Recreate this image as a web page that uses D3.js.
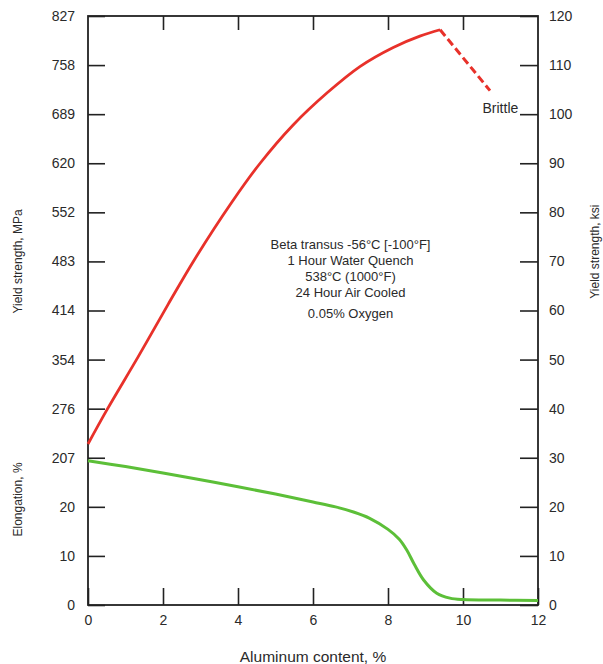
<!DOCTYPE html>
<html>
<head>
<meta charset="utf-8">
<script src="https://cdn.jsdelivr.net/npm/d3@7"></script>
<style>
  body { margin: 0; background: #fff; }
  svg text { font-family: "Liberation Sans", Arial, sans-serif; fill: #2a2a2a; }
</style>
</head>
<body>
<svg id="chart" width="603" height="664"></svg>
<script>
// aluminum content (%) vs yield strength (ksi) - solid part
const alSolid = [0, 0.5, 1.34, 2.14, 2.85, 3.83, 4.59, 5.47, 6.37, 7.25, 8.14, 8.85, 9.39]
const ksiSolid = [32.8, 39.7, 50.6, 61.3, 70.5, 82.0, 90.0, 97.8, 104.3, 109.7, 113.6, 115.9, 117.2]
// brittle (dashed) part
const alBrittle = [9.39, 10.72]
const ksiBrittle = [117.2, 104.8]
// elongation (%)
const alElong = [0, 1, 2, 3, 4, 5, 6, 6.6, 7.1, 7.5, 8.0, 8.3, 8.5, 8.7, 8.95, 9.3, 9.65, 10, 11, 12]
const elong = [29.4, 28.2, 26.9, 25.5, 24.1, 22.6, 21.0, 20.0, 18.9, 17.7, 15.4, 13.4, 11.2, 8.3, 5.1, 2.4, 1.4, 1.1, 1.0, 0.9]

const xTicks = [0, 2, 4, 6, 8, 10, 12]
const yTicks = [0, 10, 20, 30, 40, 50, 60, 70, 80, 90, 100, 110, 120]
const leftLabels = ["0", "10", "20", "207", "276", "354", "414", "483", "552", "620", "689", "758", "827"]

const notes = ["Beta transus -56°C [-100°F]", "1 Hour Water Quench", "538°C (1000°F)", "24 Hour Air Cooled"]
const note2 = "0.05% Oxygen"

const margin = { top: 16, right: 65, bottom: 59, left: 88 }
const W = 603, H = 664

const svg = d3.select('#chart')

const x = d3.scaleLinear().domain([0, 12]).range([margin.left, W - margin.right])
const y = d3.scaleLinear().domain([0, 120]).range([H - margin.bottom, margin.top])

const axisStyle = g => {
    g.select('.domain').remove()
    g.selectAll('line').attr('stroke', '#222').attr('stroke-width', 1.6)
    g.selectAll('text').style('font-size', '14px').attr('fill', '#2a2a2a')
}

svg.append('g')
    .attr('transform', `translate(${x(0)},0)`)
    .call(d3.axisLeft(y).tickValues(yTicks).tickSize(-17).tickSizeOuter(0).tickPadding(13)
        .tickFormat((d, i) => leftLabels[i]))
    .call(axisStyle)

svg.append('g')
    .attr('transform', `translate(${x(12)},0)`)
    .call(d3.axisRight(y).tickValues(yTicks).tickSize(-18).tickSizeOuter(0).tickPadding(11))
    .call(axisStyle)

svg.append('g')
    .attr('transform', `translate(0,${y(0)})`)
    .call(d3.axisBottom(x).tickValues(xTicks).tickSize(-17).tickSizeOuter(0).tickPadding(10))
    .call(axisStyle)

svg.append('g')
    .attr('transform', `translate(0,${y(120)})`)
    .call(d3.axisTop(x).tickValues(xTicks.slice(1, -1)).tickSize(-14).tickSizeOuter(0).tickFormat(''))
    .call(axisStyle)

// frame
svg.append('rect')
    .attr('x', x(0)).attr('y', y(120))
    .attr('width', x(12) - x(0)).attr('height', y(0) - y(120))
    .attr('fill', 'none').attr('stroke', '#222').attr('stroke-width', 1.8)

const line = d3.line().x(d => x(d[0])).y(d => y(d[1])).curve(d3.curveCatmullRom.alpha(0.5))

svg.append('path')
    .datum(d3.zip(alElong, elong))
    .attr('d', line)
    .attr('fill', 'none').attr('stroke', '#5cbf38').attr('stroke-width', 3)

svg.append('path')
    .datum(d3.zip(alSolid, ksiSolid))
    .attr('d', line)
    .attr('fill', 'none').attr('stroke', '#e8312a').attr('stroke-width', 2.8)

svg.append('path')
    .datum(d3.zip(alBrittle, ksiBrittle))
    .attr('d', d3.line().x(d => x(d[0])).y(d => y(d[1])))
    .attr('fill', 'none').attr('stroke', '#e8312a').attr('stroke-width', 3)
    .attr('stroke-dasharray', '8,4')

svg.append('text')
    .attr('x', x(10.52)).attr('y', y(101.2))
    .attr('dy', '0.35em')
    .style('font-size', '14px')
    .text('Brittle')

svg.append('g')
    .selectAll('text')
    .data(notes)
    .join('text')
    .attr('x', x(7))
    .attr('y', (d, i) => y(73.4) + i * 15.8)
    .attr('text-anchor', 'middle').attr('dy', '0.35em')
    .style('font-size', '13px')
    .text(d => d)

svg.append('text')
    .attr('x', x(7))
    .attr('y', y(59.5))
    .attr('text-anchor', 'middle').attr('dy', '0.35em')
    .style('font-size', '13px')
    .text(note2)

// axis titles
svg.append('text')
    .attr('transform', `translate(18,${y(70)}) rotate(-90)`)
    .attr('text-anchor', 'middle').attr('dy', '0.35em')
    .style('font-size', '12px')
    .text('Yield strength, MPa')

svg.append('text')
    .attr('transform', `translate(18,${y(21.5)}) rotate(-90)`)
    .attr('text-anchor', 'middle').attr('dy', '0.35em')
    .style('font-size', '12px')
    .text('Elongation, %')

svg.append('text')
    .attr('transform', `translate(595,${y(72)}) rotate(-90)`)
    .attr('text-anchor', 'middle').attr('dy', '0.35em')
    .style('font-size', '12px')
    .text('Yield strength, ksi')

svg.append('text')
    .attr('x', x(6)).attr('y', 657)
    .attr('text-anchor', 'middle').attr('dy', '0.35em')
    .style('font-size', '15.5px')
    .text('Aluminum content, %')
</script>
</body>
</html>
